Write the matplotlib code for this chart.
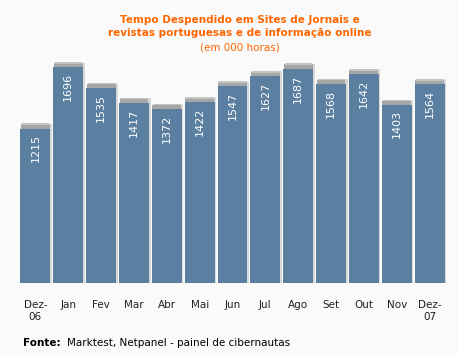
import matplotlib.pyplot as plt
import numpy as np

months = ["Dez-\n06", "Jan", "Fev", "Mar", "Abr", "Mai", "Jun",
          "Jul", "Ago", "Set", "Out", "Nov", "Dez-\n07"]
hours = [1215, 1696, 1535, 1417, 1372, 1422, 1547, 1627, 1687, 1568, 1642, 1403, 1564]

bg = "#fafafa"
bar_color = "#5a7fa1"
orange = "#ff6600"


def main():
    fig = plt.figure(figsize=(4.58, 3.55), dpi=100, facecolor=bg)
    ax = fig.add_axes([19 / 458, 72 / 355, 427 / 458, 232 / 355])
    ax.set_facecolor(bg)

    x = np.arange(len(hours))
    vals = np.array(hours)

    # soft shadow to the right of each bar, then the darker cap on top
    ax.bar(x + 0.05, vals + 38, width=0.91, color="#d8d8d8", zorder=1)
    ax.bar(x, np.full(len(hours), 32), bottom=vals, width=0.88, color="#a6a6a6", zorder=2)
    ax.bar(x, np.full(len(hours), 12), bottom=vals + 28, width=0.82, color="#c4c4c4", zorder=2)
    ax.bar(x, vals, width=0.91, color=bar_color, zorder=3)

    for xi, v in zip(x, hours):
        ax.text(xi, v - 45, str(v), rotation=90, ha="center", va="top",
                color="white", fontsize=8, zorder=4)

    ax.set_xlim(-0.5, len(hours) - 0.5)
    ax.set_ylim(0, 1825)
    ax.set_xticks(x)
    ax.set_xticklabels(months, fontsize=7.5, color="#222222", linespacing=1.35)
    ax.tick_params(axis="x", length=0, pad=12)
    ax.set_yticks([])
    for s in ax.spines.values():
        s.set_visible(False)

    fig.text(0.524, 1 - 26.5 / 355, "Tempo Despendido em Sites de Jornais e\nrevistas portuguesas e de informação online",
             ha="center", va="center", color=orange, fontsize=7.5, fontweight="bold", linespacing=1.45)
    fig.text(0.524, 1 - 47 / 355, "(em 000 horas)", ha="center", va="center", color=orange, fontsize=7.5)

    fig.text(23 / 458, 1 - 343 / 355, "Fonte:", fontweight="bold", fontsize=7.5, va="center")
    fig.text(67 / 458, 1 - 343 / 355, "Marktest, Netpanel - painel de cibernautas", fontsize=7.5, va="center")

    fig.savefig("out.png", dpi=100, facecolor=bg)


if __name__ == "__main__":
    main()
